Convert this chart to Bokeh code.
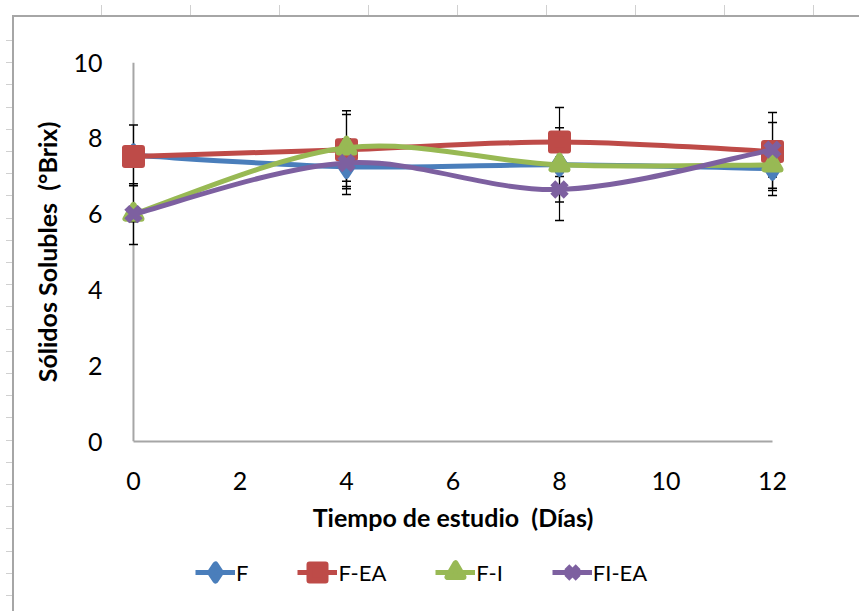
from bokeh.plotting import figure
from bokeh.layouts import column
from bokeh.models import (ColumnDataSource, Legend, LegendItem, Span,
                          FixedTicker, Range1d)
from bokeh.embed import file_html
from bokeh.resources import INLINE

# Storage time (days)
days = [0, 4, 8, 12]

# Soluble solids (°Brix) per treatment
f_brix = [7.55, 7.25, 7.30, 7.20]
fea_brix = [7.52, 7.70, 7.90, 7.65]
fi_brix = [6.00, 7.75, 7.30, 7.30]
fiea_brix = [6.00, 7.35, 6.65, 7.70]

# Standard deviations (error bars)
f_sd = [0.80, 0.73, 0.98, 0.71]
fea_sd = [0.15, 1.03, 0.91, 1.03]
fi_sd = [0.80, 0.88, 0.20, 0.62]
fiea_sd = [0.20, 0.62, 0.82, 0.72]

series_names = ["F", "F-EA", "F-I", "FI-EA"]
x_ticks = [0, 2, 4, 6, 8, 10, 12]
y_ticks = [0, 2, 4, 6, 8, 10]
x_title = "Tiempo de estudio\u00a0 (Días)"
y_title = "Sólidos Solubles\u00a0 (°Brix)"

FONT = "Lato"
W = 859
H_MAIN, H_LEG = 545, 66
FRAME_L, FRAME_R, FRAME_T, FRAME_B = 117, 788, 62, 441
PAD = 0.3  # room so edge markers are not clipped


def smooth_segments(xs, ys):
    """Cubic Bezier pieces for a smoothed line through the points."""
    px = [xs[0]] + list(xs) + [xs[-1]]
    py = [ys[0]] + list(ys) + [ys[-1]]
    out = dict(x0=[], y0=[], x1=[], y1=[], cx0=[], cy0=[], cx1=[], cy1=[])
    for i in range(1, len(xs)):
        out["x0"].append(px[i]); out["y0"].append(py[i])
        out["x1"].append(px[i + 1]); out["y1"].append(py[i + 1])
        out["cx0"].append(px[i] + (px[i + 1] - px[i - 1]) / 6)
        out["cy0"].append(py[i] + (py[i + 1] - py[i - 1]) / 6)
        out["cx1"].append(px[i + 1] - (px[i + 2] - px[i]) / 6)
        out["cy1"].append(py[i + 1] - (py[i + 2] - py[i]) / 6)
    return out


p = figure(width=W, height=H_MAIN, output_backend="svg", toolbar_location=None,
           x_range=Range1d(-PAD, 12 + PAD), y_range=Range1d(0, 10),
           min_border_left=FRAME_L, min_border_right=W - FRAME_R,
           min_border_top=FRAME_T, min_border_bottom=H_MAIN - FRAME_B,
           background_fill_color="white", border_fill_color=None,
           outline_line_color=None)
p.grid.visible = False

AXIS_GREY = "#A6A6A6"

xa = p.xaxis[0]
xa.ticker = FixedTicker(ticks=x_ticks)
xa.bounds = (0, 12)
xa.axis_line_color = AXIS_GREY
xa.axis_line_width = 2
xa.major_tick_line_color = None
xa.minor_tick_line_color = None
xa.major_label_text_font = FONT
xa.major_label_text_font_size = "25px"
xa.major_label_text_color = "black"
xa.major_label_standoff = 24
xa.axis_label = x_title
xa.axis_label_text_font = FONT
xa.axis_label_text_font_style = "bold"
xa.axis_label_text_font_size = "25px"
xa.axis_label_text_color = "black"
xa.axis_label_standoff = 9

ya = p.yaxis[0]
ya.ticker = FixedTicker(ticks=y_ticks)
ya.axis_line_color = None
ya.major_tick_line_color = None
ya.minor_tick_line_color = None
ya.major_label_text_font = FONT
ya.major_label_text_font_size = "25px"
ya.major_label_text_color = "black"
ya.major_label_standoff = 9
ya.axis_label = y_title
ya.axis_label_text_font = FONT
ya.axis_label_text_font_style = "bold"
ya.axis_label_text_font_size = "25px"
ya.axis_label_text_color = "black"
ya.axis_label_standoff = 8

# vertical axis line sits at day 0
p.add_layout(Span(location=0, dimension="height", line_color=AXIS_GREY,
                  line_width=2, level="underlay"))

series = [
    (series_names[0], f_brix, f_sd, "#4A7EBB", "diamond", 18, 6),
    (series_names[1], fea_brix, fea_sd, "#BE4B48", "square", 17, 6),
    (series_names[2], fi_brix, fi_sd, "#98B954", "triangle", 16, 6),
    (series_names[3], fiea_brix, fiea_sd, "#7D60A0", "x", 19, 7),
]

# error bars behind the series
for _, vals, sd, _, _, _, _ in series:
    lo = [v - s for v, s in zip(vals, sd)]
    hi = [v + s for v, s in zip(vals, sd)]
    p.segment(x0=days, y0=lo, x1=days, y1=hi, line_color="black", line_width=1.2)
    p.scatter(x=days + days, y=lo + hi, marker="dash", size=9,
              line_color="black", line_width=1.5)

for name, vals, sd, color, marker, msize, mlw in series:
    src = ColumnDataSource(smooth_segments(days, vals))
    p.bezier(x0="x0", y0="y0", x1="x1", y1="y1", cx0="cx0", cy0="cy0",
             cx1="cx1", cy1="cy1", source=src, line_color=color,
             line_width=5, line_cap="round")
    p.scatter(x=days, y=vals, marker=marker, size=msize,
              fill_color=color, line_color=color, line_width=mlw,
              line_join="round")

# legend strip under the chart; its renderers sit outside the strip's ranges
leg = figure(width=W, height=H_LEG, output_backend="svg", toolbar_location=None,
             x_range=Range1d(100, 101), y_range=Range1d(100, 101),
             x_axis_location=None, y_axis_location=None,
             min_border=0, border_fill_color=None, background_fill_color=None,
             outline_line_color=None)
leg.grid.visible = False

items = []
for name, vals, sd, color, marker, msize, mlw in series:
    r_line = leg.line(x=days, y=vals, line_color=color, line_width=5)
    r_mark = leg.scatter(x=days, y=vals, marker=marker, fill_color=color,
                         line_color=color, line_width=mlw, line_join="round")
    items.append(LegendItem(label=name, renderers=[r_line, r_mark]))

legend = Legend(items=items, orientation="horizontal", location=(78, 17),
                border_line_color=None, background_fill_alpha=0,
                padding=0, margin=0, spacing=49, label_standoff=1,
                label_width=0, glyph_width=40, glyph_height=44,
                label_text_font=FONT, label_text_font_size="22px",
                label_text_color="black")
leg.add_layout(legend)

layout = column(p, leg, spacing=0)
# worksheet chrome behind the chart: border plus header tick marks
layout.styles = {
    "background-color": "white",
    "background-image": ", ".join([
        "linear-gradient(#A6A6A6, #A6A6A6)",
        "linear-gradient(#A6A6A6, #A6A6A6)",
        "repeating-linear-gradient(to right, #D0D0D0 0 1px, transparent 1px 89px)",
        "repeating-linear-gradient(to bottom, #D0D0D0 0 1px, transparent 1px 22.2px)",
    ]),
    "background-position": "12px 15px, 12px 15px, 101px 5px, 6px 40px",
    "background-size": "2px 100%, 100% 2px, 760px 10px, 6px 570px",
    "background-repeat": "no-repeat",
}

open("out.html", "w").write(file_html(layout, INLINE))
